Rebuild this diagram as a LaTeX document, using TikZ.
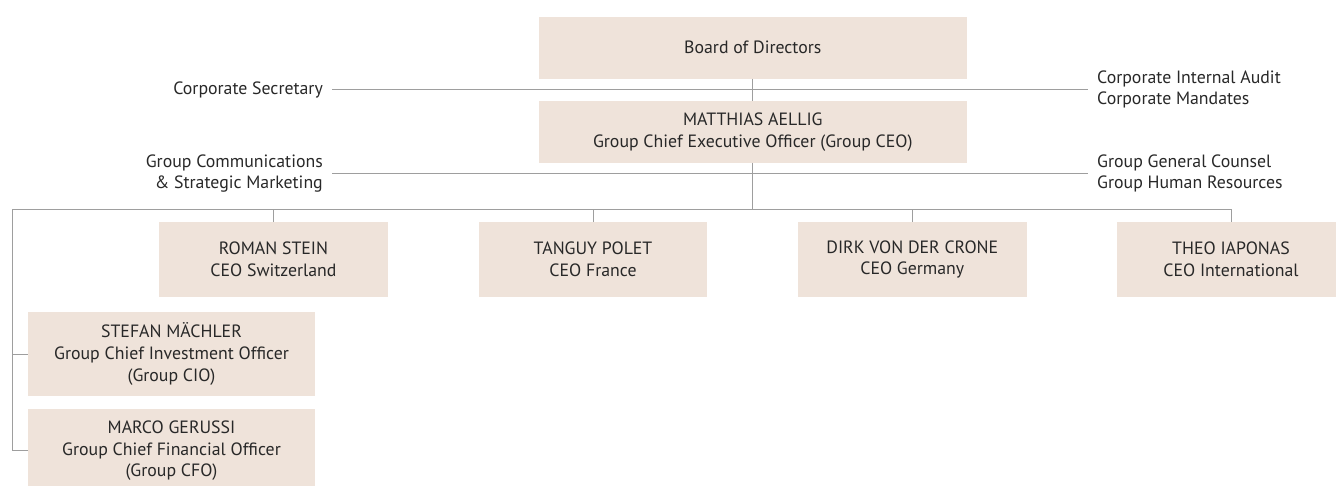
\documentclass[tikz,border=0pt]{standalone}
\usepackage{fontspec}
\setmainfont{PT Sans}
\usepackage{tikz}
\usetikzlibrary{positioning}
\definecolor{boxfill}{RGB}{239,227,218}
\definecolor{linegray}{RGB}{158,158,158}
\definecolor{textgray}{RGB}{40,40,40}

\begin{document}
\begin{tikzpicture}[x=1pt,y=-1pt,
  box/.style={fill=boxfill,text=textgray,align=center,inner sep=0pt,font=\fontsize{17.8}{21.8}\selectfont},
  side/.style={text=textgray,inner xsep=9pt,inner ysep=0pt,font=\fontsize{17.8}{21.8}\selectfont},
  conn/.style={draw=linegray,line width=1pt}]
  \useasboundingbox (0,0) rectangle (1336,486);
  % board and group ceo
  \node[box,minimum width=427.7,minimum height=61.7] (board) at (752.8,47.8) {Board of Directors};
  \node[box,minimum width=427.7,minimum height=61.7] (ceo) at (752.8,131.8) {MATTHIAS AELLIG\\Group Chief Executive Officer (Group CEO)};
  % staff functions
  \node[side,anchor=east,align=right] (secretary) at (332,89.5) {Corporate Secretary};
  \node[side,anchor=west,align=left] (audit) at (1088,89.5) {Corporate Internal Audit\\Corporate Mandates};
  \node[side,anchor=east,align=right] (comms) at (332,173.5) {Group Communications\\\& Strategic Marketing};
  \node[side,anchor=west,align=left] (counsel) at (1088,173.5) {Group General Counsel\\Group Human Resources};
  % country ceos
  \node[box,minimum width=228.7,minimum height=74.4] (roman) at (273.5,259.5) {ROMAN STEIN\\CEO Switzerland};
  \node[box,minimum width=228.7,minimum height=74.4] (tanguy) at (593,259.5) {TANGUY POLET\\CEO France};
  \node[box,minimum width=228.7,minimum height=74.4] (dirk) at (912.3,259.5) {DIRK VON DER CRONE\\CEO Germany};
  \node[box,minimum width=228.7,minimum height=74.4] (theo) at (1231,259.5) {THEO IAPONAS\\CEO International};
  % cio and cfo
  \node[box,minimum width=286.4,minimum height=83.4] (stefan) at (171.5,354) {STEFAN MÄCHLER\\Group Chief Investment Officer\\(Group CIO)};
  \node[box,minimum width=286.4,minimum height=83.4] (marco) at (171.5,450.7) {MARCO GERUSSI\\Group Chief Financial Officer\\(Group CFO)};
  % connectors
  \coordinate (bus) at (12.7,209.3);
  \draw[conn] (board.south) -- (ceo.north);
  \draw[conn] (secretary.east) -- (audit.west);
  \draw[conn] (comms.east) -- (counsel.west);
  \draw[conn] (ceo.south) -- (ceo.south |- bus);
  \draw[conn] (marco.west) -- (marco.west -| bus) -- (bus) -- (bus -| theo.north) -- (theo.north);
  \draw[conn] (stefan.west -| bus) -- (stefan.west);
  \draw[conn] (bus -| roman.north) -- (roman.north);
  \draw[conn] (bus -| tanguy.north) -- (tanguy.north);
  \draw[conn] (bus -| dirk.north) -- (dirk.north);
\end{tikzpicture}
\end{document}
